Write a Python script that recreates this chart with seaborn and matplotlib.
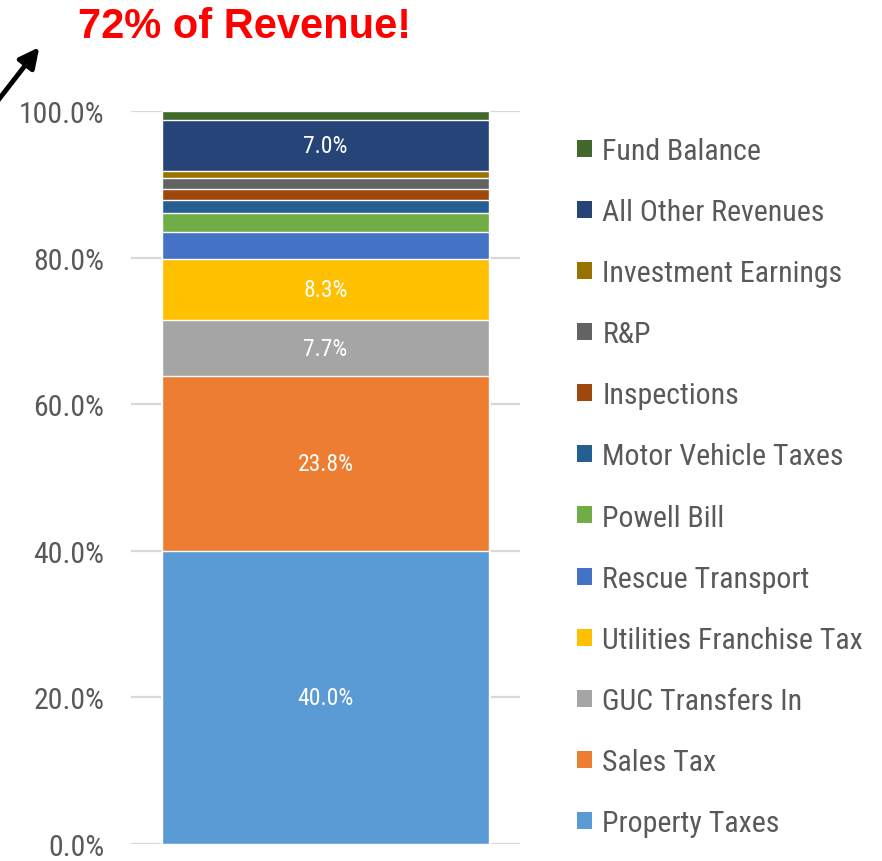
import pandas as pd
import seaborn as sns
import matplotlib.pyplot as plt
from matplotlib.patches import Patch

# revenue sources, bottom of the stack first
sources = ["Property Taxes", "Sales Tax", "GUC Transfers In", "Utilities Franchise Tax",
           "Rescue Transport", "Powell Bill", "Motor Vehicle Taxes", "Inspections",
           "R&P", "Investment Earnings", "All Other Revenues", "Fund Balance"]
shares = [40.0, 23.8, 7.7, 8.3, 3.7, 2.6, 1.8, 1.5, 1.4, 1.0, 7.0, 1.2]
colors = ["#5B9BD5", "#ED7D31", "#A5A5A5", "#FFC000", "#4472C4", "#70AD47",
          "#255E91", "#9E480E", "#636363", "#997300", "#264478", "#43682B"]
labelled = ["Property Taxes", "Sales Tax", "GUC Transfers In",
            "Utilities Franchise Tax", "All Other Revenues"]
yticks = [0, 20, 40, 60, 80, 100]
title = "72% of Revenue!"

sns.set_theme(style="white")
plt.rcParams["font.family"] = ["Roboto Condensed", "Lato", "DejaVu Sans"]

df = pd.DataFrame({"source": sources, "share": shares, "color": colors})
df["top"] = df["share"].cumsum()
df["mid"] = df["top"] - df["share"] / 2
df["fund"] = "General Fund"

fig = plt.figure(figsize=(8.82, 8.62), dpi=100)
ax = fig.add_axes([131 / 882, 1 - 845 / 862, 389 / 882, 733 / 862])

# draw cumulative bars from the tallest down so each one covers the rest
for row in df[::-1].itertuples():
    sns.barplot(data=df[df["source"] == row.source], x="fund", y="top",
                color=row.color, saturation=1, width=0.84, errorbar=None, ax=ax)

for row in df.itertuples():
    if row.source in labelled:
        ax.text(0, row.mid, f"{row.share:.1f}%", ha="center", va="center",
                color="white", fontsize=17)

ax.set_ylim(0, 100)
ax.set_xlim(-0.5, 0.5)
ax.set_yticks(yticks)
ax.set_yticklabels([f"{v:.1f}%" for v in yticks])
ax.set_xticks([])
ax.set_xlabel("")
ax.set_ylabel("")
ax.tick_params(axis="y", length=0, pad=19, labelsize=21.5, labelcolor="#595959")
ax.yaxis.grid(True, color="#D9D9D9", linewidth=1.6)
ax.set_axisbelow(True)
sns.despine(ax=ax, left=True, bottom=True)

handles = [Patch(facecolor=c, edgecolor="none") for c in colors[::-1]]
leg = fig.legend(handles, sources[::-1], loc="center left",
                 bbox_to_anchor=(577 / 882, 1 - 488 / 862), frameon=False,
                 fontsize=21.5, handlelength=0.5, handleheight=0.5,
                 handletextpad=0.35, labelspacing=1.11, borderpad=0, borderaxespad=0)
for t in leg.get_texts():
    t.set_color("#595959")

fig.text(245 / 882, 1 - 27 / 862, title, ha="center", va="center", color="red",
         fontsize=30, fontweight="bold", family=["Liberation Sans", "DejaVu Sans"])
ax.annotate("", xy=(41, 862 - 46), xytext=(-4, 862 - 104),
            xycoords="figure pixels", textcoords="figure pixels",
            arrowprops=dict(arrowstyle="-|>", color="black", lw=3.5, mutation_scale=30))

fig.savefig("out.png", dpi=100)
